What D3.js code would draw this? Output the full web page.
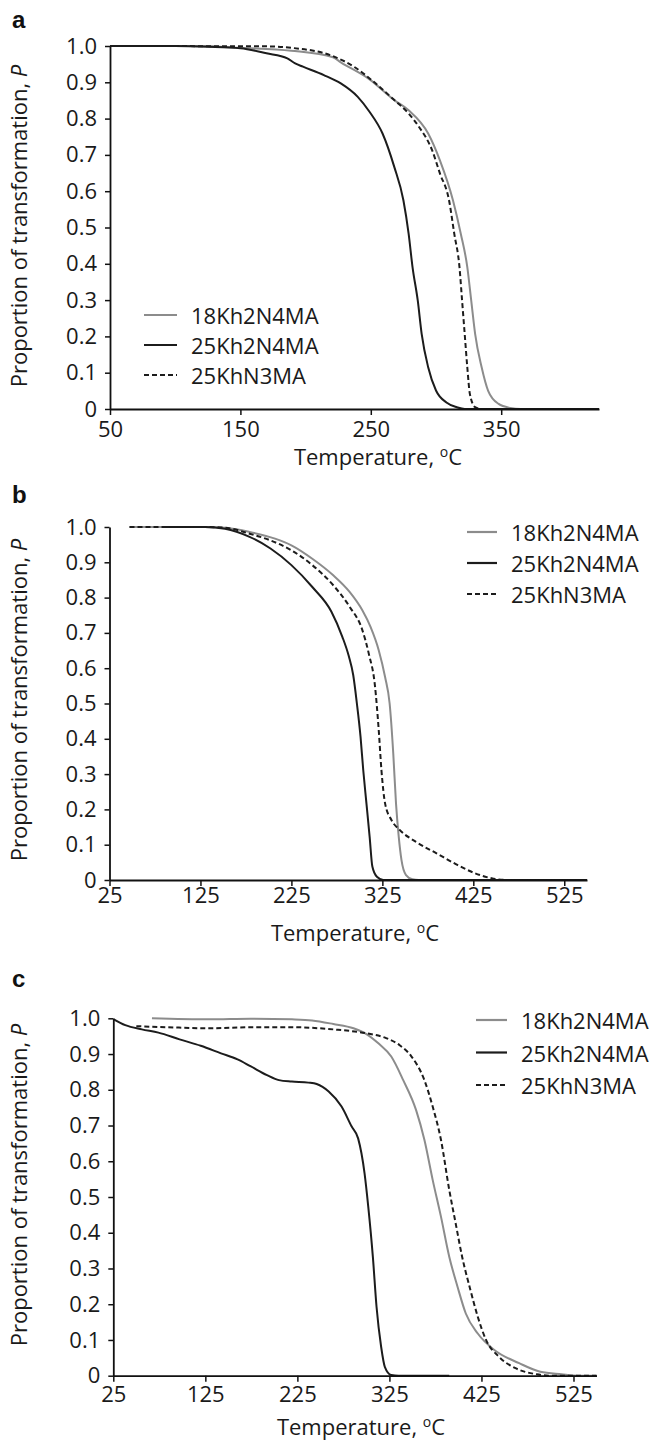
<!DOCTYPE html>
<html>
<head>
<meta charset="utf-8">
<script src="https://cdn.jsdelivr.net/npm/d3@7"></script>
<style>
  body { margin: 0; background: #fff; }
  svg { display: block; font-family: "Open Sans", "Noto Sans", sans-serif; }
</style>
</head>
<body>
<script>
// tick values
const tempTicksA = [50, 150, 250, 350];
const tempTicksBC = [25, 125, 225, 325, 425, 525];
const pTicks = [0, 0.1, 0.2, 0.3, 0.4, 0.5, 0.6, 0.7, 0.8, 0.9, 1.0];
const seriesNames = ['18Kh2N4MA', '25Kh2N4MA', '25KhN3MA'];

// panel a: [temperature, P]
const a18Kh2N4MA = [[50,1],[120,1],[150,0.995],[189,0.987],[221,0.969],[227,0.955],[249,0.908],[268,0.851],[279,0.823],[294,0.759],[303,0.685],[313,0.575],[319,0.483],[324,0.391],[327,0.299],[330,0.207],[335,0.115],[340,0.05],[348,0.014],[357,0.003],[365,0],[425,0]];
const a25Kh2N4MA = [[50,1],[100,1],[125,0.998],[150,0.994],[170,0.98],[186,0.966],[192,0.952],[198,0.943],[214,0.92],[227,0.897],[240,0.86],[249,0.819],[259,0.759],[268,0.667],[275,0.575],[279,0.483],[282,0.391],[286,0.299],[289,0.207],[294,0.115],[300,0.051],[308,0.018],[316,0.005],[322,0],[425,0]];
const a25KhN3MA = [[50,1],[170,0.999],[189,0.995],[221,0.972],[237,0.943],[252,0.902],[268,0.851],[279,0.814],[287,0.777],[297,0.713],[303,0.649],[310,0.575],[314,0.483],[318,0.391],[320,0.299],[322,0.207],[324,0.115],[326,0.041],[330,0.005],[335,0],[425,0]];

// panel b
const b18Kh2N4MA = [[47,1],[130,1],[152,0.998],[179,0.986],[207,0.967],[225,0.948],[248,0.91],[271,0.863],[289,0.816],[303,0.764],[312,0.717],[321,0.651],[328,0.575],[333,0.5],[337,0.358],[340,0.217],[343,0.123],[346,0.057],[351,0.014],[358,0.002],[365,0],[550,0]];
const b25Kh2N4MA = [[83,1],[130,1],[152,0.995],[179,0.972],[202,0.939],[225,0.892],[248,0.83],[269,0.76],[281,0.689],[288,0.635],[293,0.58],[297,0.5],[301,0.406],[304,0.311],[307.5,0.217],[311,0.123],[314,0.038],[319,0.009],[326,0],[550,0]];
const b25KhN3MA = [[47,1],[130,1],[152,0.998],[179,0.981],[202,0.962],[225,0.934],[248,0.892],[271,0.835],[289,0.774],[303,0.708],[310,0.642],[317,0.547],[321,0.425],[324,0.311],[328,0.217],[335,0.17],[344,0.142],[362,0.108],[385,0.075],[408,0.042],[427,0.019],[445,0.005],[463,0],[550,0]];

// panel c
const c18Kh2N4MA = [[67,1],[129,0.997],[174,0.999],[219,0.997],[241,0.994],[264,0.984],[286,0.972],[300,0.956],[313,0.93],[327,0.893],[340,0.827],[354,0.743],[363,0.66],[372,0.548],[381,0.445],[390,0.333],[399,0.249],[408,0.174],[421,0.118],[439,0.072],[466,0.035],[489,0.011],[512,0.004],[530,0],[550,0]];
const c25Kh2N4MA = [[25,0.998],[38,0.981],[56,0.969],[74,0.96],[97,0.941],[120,0.923],[142,0.902],[160,0.885],[174,0.866],[192,0.841],[205,0.827],[219,0.823],[237,0.82],[246,0.816],[259,0.795],[273,0.753],[284,0.697],[291,0.664],[298,0.566],[302,0.473],[307,0.333],[311,0.193],[316,0.081],[320,0.025],[327,0.002],[335,0],[390,0]];
const c25KhN3MA = [[50,0.978],[84,0.975],[129,0.972],[174,0.975],[219,0.975],[264,0.969],[300,0.958],[322,0.944],[336,0.925],[349,0.893],[363,0.827],[372,0.753],[381,0.66],[390,0.52],[397,0.426],[404,0.333],[413,0.24],[421,0.165],[430,0.1],[444,0.053],[462,0.021],[485,0.004],[500,0],[550,0]];

const styles = [
  {color: '#8c8c8c', dash: null},
  {color: '#1c1c1c', dash: null},
  {color: '#1c1c1c', dash: '5,3'}
];

const svg = d3.select('body').append('svg')
  .attr('width', 652)
  .attr('height', 1443);

// draw one panel of the figure
function drawPanel(p) {
  const x = d3.scaleLinear().domain(p.xDomain).range([p.left, p.right]);
  const y = d3.scaleLinear().domain([0, 1]).range([p.bottom, p.top]);
  const g = svg.append('g');

  g.append('text')
    .attr('x', 12).attr('y', p.letterY)
    .attr('font-family', 'Liberation Sans, Arial, sans-serif')
    .attr('font-weight', 'bold')
    .attr('font-size', 24)
    .attr('fill', '#111')
    .text(p.letter);

  const line = d3.line()
    .x(d => x(d[0]))
    .y(d => y(d[1]))
    .curve(d3.curveMonotoneX);

  p.series.forEach((s, i) => {
    g.append('path')
      .datum(s)
      .attr('d', line)
      .attr('fill', 'none')
      .attr('stroke', styles[i].color)
      .attr('stroke-width', 2)
      .attr('stroke-dasharray', styles[i].dash);
  });

  const xAxis = g.append('g')
    .attr('transform', `translate(0,${p.bottom})`)
    .call(d3.axisBottom(x).tickValues(p.xTicks).tickSize(6).tickPadding(p.xPad).tickSizeOuter(0));
  const yAxis = g.append('g')
    .attr('transform', `translate(${p.left},0)`)
    .call(d3.axisLeft(y).tickValues(pTicks).tickSize(5).tickPadding(8).tickSizeOuter(0)
      .tickFormat(d => d === 0 ? '0' : d.toFixed(1)));

  [xAxis, yAxis].forEach(ax => {
    ax.select('.domain').attr('stroke', '#111').attr('stroke-width', 1.8);
    ax.selectAll('.tick line').attr('stroke', '#111').attr('stroke-width', 1.5);
    ax.selectAll('.tick text')
      .attr('font-family', '"Open Sans", sans-serif')
      .attr('font-size', 22)
      .attr('fill', '#1a1a1a');
  });

  // axis titles
  const xt = g.append('text')
    .attr('x', p.xTitleX).attr('y', p.xTitleY)
    .attr('text-anchor', 'middle')
    .attr('font-size', 22)
    .attr('fill', '#1a1a1a');
  xt.append('tspan').text('Temperature, ');
  xt.append('tspan').attr('font-size', 14).attr('dy', -8).text('o');
  xt.append('tspan').attr('dy', 8).text('C');

  const yt = g.append('text')
    .attr('transform', `translate(27,${p.yTitleY}) rotate(-90)`)
    .attr('text-anchor', 'middle')
    .attr('font-size', 22)
    .attr('fill', '#1a1a1a');
  yt.append('tspan').text('Proportion of transformation, ');
  yt.append('tspan').attr('font-style', 'italic').text('P');

  // legend
  seriesNames.forEach((name, i) => {
    const ly = p.legY + i * p.legStep;
    g.append('line')
      .attr('x1', p.legX).attr('x2', p.legX + p.legLen)
      .attr('y1', ly).attr('y2', ly)
      .attr('stroke', styles[i].color)
      .attr('stroke-width', 2.2)
      .attr('stroke-dasharray', styles[i].dash);
    g.append('text')
      .attr('x', p.legX + p.legLen + 14)
      .attr('y', ly + 9)
      .attr('font-size', 22)
      .attr('fill', '#1a1a1a')
      .text(name);
  });
}

drawPanel({
  letter: 'a', letterY: 28,
  xDomain: [50, 425], left: 110, right: 599, top: 46, bottom: 409,
  xTicks: tempTicksA, xPad: 6,
  xTitleX: 378, xTitleY: 465, yTitleY: 226,
  series: [a18Kh2N4MA, a25Kh2N4MA, a25KhN3MA],
  legX: 144, legLen: 33, legY: 315, legStep: 30
});

drawPanel({
  letter: 'b', letterY: 503,
  xDomain: [25, 550], left: 109.5, right: 587, top: 527, bottom: 880,
  xTicks: tempTicksBC, xPad: 1,
  xTitleX: 355, xTitleY: 941, yTitleY: 700,
  series: [b18Kh2N4MA, b25Kh2N4MA, b25KhN3MA],
  legX: 467, legLen: 30, legY: 532, legStep: 31
});

drawPanel({
  letter: 'c', letterY: 987,
  xDomain: [25, 550], left: 113.3, right: 596.5, top: 1018.3, bottom: 1375.7,
  xTicks: tempTicksBC, xPad: 5,
  xTitleX: 361, xTitleY: 1435, yTitleY: 1185,
  series: [c18Kh2N4MA, c25Kh2N4MA, c25KhN3MA],
  legX: 476, legLen: 31, legY: 1020, legStep: 32.5
});
</script>
</body>
</html>
